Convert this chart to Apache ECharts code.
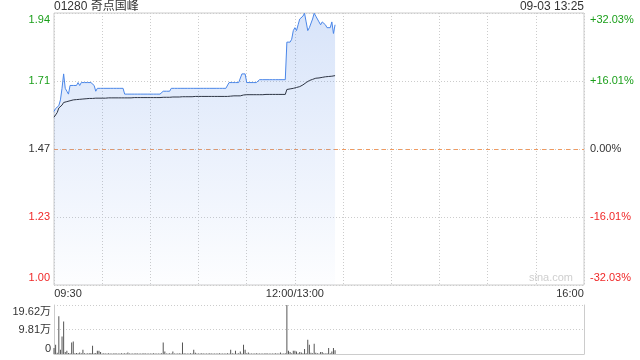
<!DOCTYPE html>
<html><head><meta charset="utf-8">
<script src="https://cdn.jsdelivr.net/npm/echarts@6/dist/echarts.min.js"></script>
<style>html,body{margin:0;padding:0;background:#fff}#c{width:640px;height:360px}</style>
</head><body><div id="c"></div>
<script>
const stockTitle = '01280 奇点国峰';
const stampText = '09-03 13:25';
const watermark = 'sina.com';
const prevClose = 1.47;
const pctRange = 32.03;
const priceTickLabels = ['1.00', '1.23', '1.47', '1.71', '1.94'];
const pctTickLabels = ['-32.03%', '-16.01%', '0.00%', '+16.01%', '+32.03%'];
const volMax = 19.62;
const volTickLabels = ['0', '9.81万', '19.62万'];
const timeTickIndex = [0, 150, 330];
const timeTickLabels = ['09:30', '12:00/13:00', '16:00'];

const price = [
1.60,1.61,1.61,1.62,1.64,1.68,1.73,1.68,1.67,1.66,
1.69,1.69,1.69,1.69,1.69,1.70,1.69,1.70,1.70,1.70,
1.70,1.70,1.70,1.70,1.70,1.69,1.67,1.68,1.68,1.68,
1.68,1.68,1.68,1.68,1.68,1.68,1.68,1.68,1.68,1.68,
1.68,1.68,1.68,1.68,1.66,1.66,1.66,1.66,1.66,1.66,
1.66,1.66,1.66,1.66,1.66,1.66,1.66,1.66,1.66,1.66,
1.66,1.66,1.66,1.66,1.66,1.66,1.66,1.66,1.67,1.67,
1.67,1.67,1.67,1.68,1.68,1.68,1.68,1.68,1.68,1.68,
1.68,1.68,1.68,1.68,1.68,1.68,1.68,1.68,1.68,1.68,
1.68,1.68,1.68,1.68,1.68,1.68,1.68,1.68,1.68,1.68,
1.68,1.68,1.68,1.68,1.68,1.68,1.68,1.68,1.68,1.70,
1.70,1.70,1.70,1.70,1.70,1.70,1.70,1.73,1.73,1.73,
1.70,1.70,1.70,1.70,1.70,1.70,1.70,1.70,1.71,1.71,
1.71,1.71,1.71,1.71,1.71,1.71,1.71,1.71,1.71,1.71,
1.71,1.71,1.71,1.71,1.71,1.84,1.84,1.84,1.85,1.88,
1.89,1.88,1.90,1.92,1.92,1.93,1.94,1.91,1.88,1.89,
1.89,1.92,1.94,1.93,1.92,1.91,1.90,1.91,1.91,1.90,
1.89,1.89,1.89,1.91,1.87,1.90
];

const avgPrice = [
1.580,1.588,1.596,1.612,1.616,1.622,1.631,1.633,1.634,1.635,
1.637,1.639,1.640,1.641,1.641,1.642,1.642,1.643,1.643,1.644,
1.644,1.644,1.645,1.645,1.645,1.645,1.646,1.646,1.646,1.646,
1.646,1.646,1.646,1.646,1.647,1.647,1.647,1.647,1.647,1.647,
1.647,1.647,1.647,1.647,1.647,1.647,1.647,1.647,1.647,1.647,
1.648,1.648,1.648,1.648,1.648,1.648,1.648,1.648,1.648,1.648,
1.648,1.648,1.648,1.648,1.648,1.648,1.648,1.648,1.649,1.649,
1.649,1.649,1.649,1.649,1.650,1.650,1.650,1.650,1.650,1.650,
1.651,1.651,1.651,1.651,1.651,1.651,1.651,1.652,1.652,1.652,
1.652,1.652,1.652,1.652,1.652,1.652,1.652,1.652,1.652,1.652,
1.652,1.652,1.652,1.652,1.652,1.652,1.652,1.652,1.652,1.653,
1.653,1.653,1.654,1.654,1.654,1.654,1.654,1.656,1.657,1.658,
1.658,1.658,1.658,1.658,1.658,1.658,1.658,1.658,1.658,1.658,
1.658,1.658,1.659,1.659,1.659,1.659,1.659,1.659,1.659,1.659,
1.659,1.659,1.659,1.659,1.659,1.676,1.677,1.678,1.679,1.680,
1.682,1.683,1.684,1.686,1.689,1.692,1.696,1.700,1.704,1.707,
1.709,1.711,1.713,1.715,1.715,1.716,1.717,1.718,1.719,1.720,
1.720,1.721,1.722,1.722,1.723,1.724
];

// volume in 万股
const volume = [
2.4,3.7,0.5,15.1,1.7,7.0,13.0,0.8,1.3,0.4,
0.3,4.6,5.0,0.3,0.4,0.3,0.6,0.3,1.7,0.3,
0.2,0.3,0.3,0.4,3.3,0.3,0.4,1.3,1.3,0.8,
0.2,0.3,0.2,0.2,0.3,0.2,0.2,0.2,0.3,0.2,
0.2,0.2,0.3,0.2,0.3,0.2,0.6,0.2,0.2,0.2,
0.2,0.3,0.2,0.2,0.2,0.2,0.3,0.2,0.2,0.2,
0.2,0.2,0.3,0.2,0.2,0.2,0.2,0.3,4.6,1.0,
0.2,0.2,0.3,0.2,1.0,0.2,0.2,0.2,0.3,0.2,
4.6,0.3,0.2,0.2,0.2,0.3,0.2,1.7,0.5,0.2,
0.2,0.2,0.3,0.2,0.2,0.2,0.2,0.3,0.2,0.2,
0.2,0.2,0.2,0.3,0.2,0.2,0.2,0.2,0.3,0.2,
1.7,0.3,0.2,1.3,0.2,0.3,1.0,0.2,3.7,1.7,
0.3,0.6,0.2,0.2,0.2,0.2,0.3,0.2,0.2,0.2,
0.2,0.2,0.3,0.2,0.2,0.2,0.2,0.2,0.3,0.2,
0.2,0.6,0.2,0.2,0.3,19.62,1.3,0.8,0.3,1.3,
1.3,1.0,0.3,0.8,0.6,0.3,2.0,0.3,5.7,3.7,
0.5,0.3,4.1,0.5,0.3,0.2,0.8,0.8,0.3,0.2,
0.3,2.4,0.3,1.0,2.4,1.5
];

// trading-minute categories: 09:30-12:00, 13:01-16:00
function hhmm(t) { return String(Math.floor(t / 60)).padStart(2, '0') + ':' + String(t % 60).padStart(2, '0'); }
const times = [];
for (let m = 0; m <= 150; m++) times.push(hhmm(570 + m));
for (let m = 1; m <= 180; m++) times.push(hhmm(780 + m));

const FONT = 'Arial, "Liberation Sans", "Noto Sans CJK SC", sans-serif';
const GREEN = '#1a9f1a', RED = '#f02828', DARK = '#333333';
const ORANGE = '#f09a60';
const GRID = '#cccccc';
const NONE = 'rgba(0,0,0,0)';
const pMin = prevClose * (1 - pctRange / 100);
const pMax = prevClose * (1 + pctRange / 100);
const pctStep = pctRange / 2;
function pctIdx(v) { return Math.round((v + pctRange) / pctStep); }
const styleKeys = ['rb', 'r', 'k', 'g', 'gt'];
function rs(color, pad) { return { color: color, fontSize: 11, fontFamily: FONT, padding: pad || [0, 0, 0, 0] }; }
const yRich = {
  gt: rs(GREEN, [14, 0, 0, 0]), g: rs(GREEN), k: rs(DARK), r: rs(RED), rb: rs(RED, [0, 0, 14, 0])
};
const dotted = { color: GRID, type: [1, 2], width: 1 };

const chart = echarts.init(document.getElementById('c'), null, { renderer: 'canvas', width: 640, height: 360 });
chart.setOption({
  animation: false,
  backgroundColor: '#ffffff',
  title: [
    { text: stockTitle, left: 54, top: 1, padding: 0, textStyle: { fontSize: 12, fontWeight: 'normal', color: DARK, fontFamily: FONT } },
    { text: stampText, right: 56, top: 1, padding: 0, textStyle: { fontSize: 12, fontWeight: 'normal', color: DARK, fontFamily: FONT } }
  ],
  graphic: [
    { type: 'text', right: 67, top: 272, silent: true, style: { text: watermark, fill: '#cfcfcf', font: '11px ' + FONT } }
  ],
  grid: [
    { left: 54, right: 56, top: 13, height: 272, show: true, borderColor: GRID, borderWidth: 1, backgroundColor: 'transparent' },
    { left: 54, right: 56, top: 305, height: 49, show: false }
  ],
  xAxis: [
    {
      type: 'category', gridIndex: 0, data: times, boundaryGap: false,
      axisLine: { show: false }, axisTick: { show: false },
      splitLine: { show: true, interval: function (i) { return i % 30 === 0; }, lineStyle: dotted },
      axisLabel: {
        interval: function (i) { return timeTickIndex.indexOf(i) >= 0; },
        formatter: function (v, i) {
          const k = timeTickIndex.indexOf(i);
          const key = k === 0 ? 'l' : (k === 2 ? 'rr' : 'c');
          return '{' + key + '|' + timeTickLabels[k] + '}';
        },
        margin: 3,
        rich: { l: rs(DARK, [0, 0, 0, 28]), c: rs(DARK), rr: rs(DARK, [0, 28, 0, 0]) }
      }
    },
    {
      type: 'category', gridIndex: 1, data: times, boundaryGap: false,
      axisLine: { show: true, lineStyle: { color: GRID } }, axisTick: { show: false },
      axisLabel: { show: false }, splitLine: { show: false }
    }
  ],
  yAxis: [
    { type: 'value', gridIndex: 0, min: pMin, max: pMax, show: false, splitLine: { show: false } },
    {
      type: 'value', gridIndex: 0, position: 'left', min: -pctRange, max: pctRange, interval: pctStep,
      axisLine: { show: false }, axisTick: { show: false },
      splitLine: { show: true, lineStyle: dotted },
      axisLabel: { margin: 4, formatter: function (v) { const k = pctIdx(v); return '{' + styleKeys[k] + '|' + priceTickLabels[k] + '}'; }, rich: yRich }
    },
    {
      type: 'value', gridIndex: 0, position: 'right', min: -pctRange, max: pctRange, interval: pctStep,
      axisLine: { show: false }, axisTick: { show: false },
      // previous-close reference line (0.00%) in orange dashes
      splitLine: { show: true, lineStyle: { color: [NONE, NONE, ORANGE, NONE, NONE], type: [4, 4], width: 1 } },
      axisLabel: { margin: 6, formatter: function (v) { const k = pctIdx(v); return '{' + styleKeys[k] + '|' + pctTickLabels[k] + '}'; }, rich: yRich }
    },
    {
      type: 'value', gridIndex: 1, position: 'left', min: 0, max: volMax, interval: volMax / 2,
      axisLine: { show: true, lineStyle: { color: GRID } }, axisTick: { show: false },
      splitLine: { show: true, lineStyle: dotted },
      axisLabel: {
        margin: 3,
        formatter: function (v) {
          const k = Math.round(v / (volMax / 2));
          const key = k === 0 ? 'b' : (k === 2 ? 't' : 'm');
          return '{' + key + '|' + volTickLabels[k] + '}';
        },
        rich: { t: rs(DARK, [14, 0, 0, 0]), m: rs(DARK), b: rs(DARK, [0, 0, 10, 0]) }
      }
    },
    {
      type: 'value', gridIndex: 1, position: 'right', min: 0, max: volMax, interval: volMax / 2,
      axisLine: { show: true, lineStyle: { color: GRID } }, axisTick: { show: false },
      axisLabel: { show: false }, splitLine: { show: false }
    }
  ],
  series: [
    {
      name: 'price', type: 'line', xAxisIndex: 0, yAxisIndex: 0, data: price,
      symbol: 'none', showSymbol: false, z: 3,
      lineStyle: { color: '#4a86e8', width: 1 },
      areaStyle: {
        origin: 'start',
        color: new echarts.graphic.LinearGradient(0, 0, 0, 1, [
          { offset: 0, color: 'rgba(92,142,232,0.34)' },
          { offset: 1, color: 'rgba(92,142,232,0.02)' }
        ])
      }
    },
    {
      name: 'avg', type: 'line', xAxisIndex: 0, yAxisIndex: 0, data: avgPrice,
      symbol: 'none', showSymbol: false, z: 4,
      lineStyle: { color: '#2e3544', width: 1 }
    },
    {
      name: 'volume', type: 'bar', xAxisIndex: 1, yAxisIndex: 3, data: volume,
      barWidth: 1, itemStyle: { color: '#555555' }
    }
  ]
});
</script>
</body></html>
